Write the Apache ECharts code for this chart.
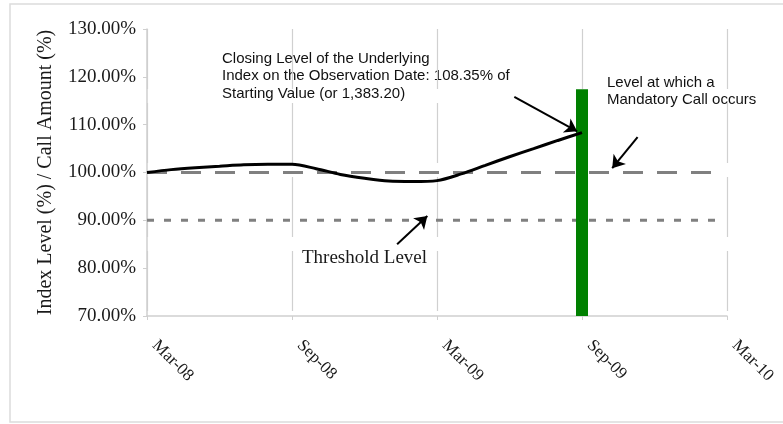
<!DOCTYPE html>
<html>
<head>
<meta charset="utf-8">
<script src="https://cdn.jsdelivr.net/npm/echarts@6/dist/echarts.min.js"></script>
<style>html,body{margin:0;padding:0;background:#fff;}#c{width:783px;height:424px;}</style>
</head>
<body>
<div id="c"></div>
<script>
// months since Mar-08
var tickLabels = ['Mar-08', 'Sep-08', 'Mar-09', 'Sep-09', 'Mar-10'];
var indexMonths = [0, 1, 2, 3, 4, 5, 6, 7, 8, 9, 10, 11, 12, 13, 14, 15, 16, 17, 18];
var indexLevel = [100, 100.6, 101.0, 101.3, 101.6, 101.7, 101.7, 100.8, 99.6, 98.8, 98.2, 98.1, 98.3, 99.7, 101.5, 103.3, 105.0, 106.7, 108.35];
var callLevelX = [0, 23.4];
var callLevel = [100, 100];
var thresholdX = [0, 23.7];
var threshold = [90, 90];
var callBarX = 18;
var callBarValue = 117.4;
var yMin = 70;

var chart = echarts.init(document.getElementById('c'));
var serif = '"Liberation Serif", "Times New Roman", serif';
var sans = '"Liberation Sans", Arial, sans-serif';

function arrow(x1, y1, x2, y2) {
  return [{ coord: [x1, y1] }, { coord: [x2, y2] }];
}

chart.setOption({
  animation: false,
  backgroundColor: '#fff',
  grid: { left: 147, right: 56, top: 29, bottom: 108 },
  xAxis: {
    type: 'value', min: 0, max: 24, interval: 6,
    axisLine: { show: true, lineStyle: { color: '#cfcfcf', width: 1.5 } },
    axisTick: { show: true, length: 4, lineStyle: { color: '#cfcfcf' } },
    splitLine: { show: true, lineStyle: { color: '#d0d0d0', width: 1.2, type: [60, 14] } },
    axisLabel: {
      rotate: -45, margin: 19, padding: [0, 0, 0, 11], fontFamily: serif, fontSize: 17, color: '#1a1a1a',
      formatter: function (v) { return tickLabels[Math.round(v / 6)]; }
    }
  },
  yAxis: {
    type: 'value', min: 70, max: 130, interval: 10,
    name: 'Index Level (%) / Call Amount (%)', nameLocation: 'middle', nameGap: 91,
    nameTextStyle: { fontFamily: serif, fontSize: 20, color: '#1a1a1a' },
    axisLine: { show: true, lineStyle: { color: '#cfcfcf', width: 1.5 } },
    axisTick: { show: true, length: 4, lineStyle: { color: '#cfcfcf' } },
    splitLine: { show: false },
    axisLabel: {
      margin: 11, fontFamily: serif, fontSize: 19, color: '#1a1a1a',
      formatter: function (v) { return v.toFixed(2) + '%'; }
    }
  },
  series: [
    {
      type: 'line', symbol: 'none', z: 2,
      data: thresholdX.map(function (x, i) { return [x, threshold[i]]; }),
      lineStyle: { color: '#808080', width: 3, type: [7, 10] }
    },
    {
      type: 'line', symbol: 'none', z: 2,
      data: callLevelX.map(function (x, i) { return [x, callLevel[i]]; }),
      lineStyle: { color: '#808080', width: 3, type: [20, 14] }
    },
    {
      type: 'line', symbol: 'none', z: 3,
      data: [[callBarX, yMin], [callBarX, callBarValue]],
      lineStyle: { color: '#008000', width: 12, cap: 'butt' }
    },
    {
      type: 'line', symbol: 'none', smooth: 0.3, z: 4,
      data: indexMonths.map(function (m, i) { return [m, indexLevel[i]]; }),
      lineStyle: { color: '#000', width: 3 },
      markLine: {
        silent: true, symbol: ['none', 'arrow'], symbolSize: 12,
        lineStyle: { color: '#000', width: 2, type: 'solid' },
        label: { show: false },
        data: [
          arrow(15.2, 115.8, 17.8, 108.6),
          arrow(20.3, 107.4, 19.25, 100.9),
          arrow(10.35, 85.0, 11.6, 90.9)
        ]
      }
    }
  ],
  graphic: [
    { type: 'rect', shape: { x: 10, y: 4, width: 800, height: 418 }, style: { fill: 'none', stroke: '#dcdcdc', lineWidth: 1.5 }, z: -1 },
    { type: 'text', left: 222, top: 50, style: { text: 'Closing Level of the Underlying\nIndex on the Observation Date: 108.35% of\nStarting Value (or 1,383.20)', font: '15px ' + sans, fill: '#111', lineHeight: 17.5 } },
    { type: 'text', left: 607, top: 74, style: { text: 'Level at which a\nMandatory Call occurs', font: '15px ' + sans, fill: '#111', lineHeight: 17.5 } },
    { type: 'text', left: 302, top: 249, style: { text: 'Threshold Level', font: '19px ' + serif, fill: '#1a1a1a' } }
  ]
});
</script>
</body>
</html>
